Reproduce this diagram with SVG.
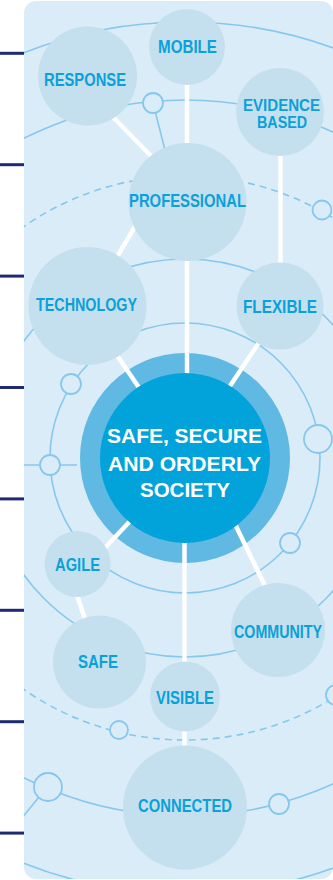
<svg xmlns="http://www.w3.org/2000/svg" width="333" height="880" viewBox="0 0 333 880">
<style>
.orbit{fill:none;stroke:#86c8ec;stroke-width:1.6}
.dash{stroke-dasharray:7 5}
.ring{fill:#daecf7;stroke:#86c8ec;stroke-width:1.8}
.node{fill:#c4e0ee}
.lbl{font-family:"Liberation Sans",Arial,sans-serif;font-weight:bold;font-size:17.5px;fill:#0aa0da;text-anchor:middle}
.sm{font-size:16px}
.ctr{font-family:"Liberation Sans",Arial,sans-serif;font-weight:bold;font-size:20.5px;fill:#fff;text-anchor:middle}
.link{stroke:#fff;stroke-width:4.5;fill:none}
.thin{stroke:#86c8ec;stroke-width:1.6;fill:none}
.tab{stroke:#1f2a74;stroke-width:3}
</style>
<defs>
<clipPath id="panel"><rect x="24" y="1" width="309" height="878" rx="12"/></clipPath>
</defs>
<g id="tabs">
<line class="tab" x1="0" y1="53.3" x2="24" y2="53.3"/>
<line class="tab" x1="0" y1="164.7" x2="24" y2="164.7"/>
<line class="tab" x1="0" y1="276.1" x2="24" y2="276.1"/>
<line class="tab" x1="0" y1="387.5" x2="24" y2="387.5"/>
<line class="tab" x1="0" y1="498.9" x2="24" y2="498.9"/>
<line class="tab" x1="0" y1="610.3" x2="24" y2="610.3"/>
<line class="tab" x1="0" y1="721.7" x2="24" y2="721.7"/>
<line class="tab" x1="0" y1="833.1" x2="24" y2="833.1"/>
</g>
<rect id="panel-bg" x="24" y="1" width="309" height="878" rx="12" fill="#daecf7"/>
<g id="orbits" clip-path="url(#panel)">
<circle class="orbit" cx="185" cy="458" r="135"/>
<circle class="orbit" cx="185" cy="458" r="199"/>
<circle class="orbit dash" cx="185" cy="458" r="282"/>
<circle class="orbit" cx="185" cy="458" r="358"/>
<circle class="orbit" cx="185" cy="458" r="436"/>
<line class="thin" x1="24" y1="465" x2="77" y2="465"/>
<line class="thin" x1="39" y1="797" x2="22" y2="818"/>
<line class="thin" x1="155.5" y1="112.7" x2="165" y2="150"/>
<circle class="ring" cx="153" cy="103" r="10"/>
<circle class="ring" cx="322" cy="210" r="9.5"/>
<circle class="ring" cx="71" cy="384" r="10"/>
<circle class="ring" cx="50" cy="465" r="10"/>
<circle class="ring" cx="318" cy="439" r="14"/>
<circle class="ring" cx="290" cy="543" r="10"/>
<circle class="ring" cx="119" cy="730" r="9"/>
<circle class="ring" cx="336" cy="695" r="10"/>
<circle class="ring" cx="48" cy="787" r="14"/>
<circle class="ring" cx="279" cy="804" r="10"/>
</g>
<g id="hub-ring"><circle cx="185" cy="458" r="105" fill="#5fb9e2"/></g>
<g id="connectors">
<line class="link" x1="108" y1="112" x2="155" y2="160"/>
<line class="link" x1="187" y1="80" x2="187" y2="150"/>
<line class="link" x1="280.5" y1="150" x2="280.5" y2="270"/>
<line class="link" x1="140" y1="218" x2="114" y2="262"/>
<line class="link" x1="187" y1="255" x2="187" y2="380"/>
<line class="link" x1="114" y1="351" x2="142" y2="392"/>
<line class="link" x1="262" y1="338" x2="228" y2="389"/>
<line class="link" x1="132" y1="519" x2="102" y2="551"/>
<line class="link" x1="234" y1="522" x2="267" y2="590"/>
<line class="link" x1="76" y1="592" x2="86" y2="622"/>
<line class="link" x1="184.5" y1="535" x2="184.5" y2="670"/>
<line class="link" x1="184.5" y1="725" x2="184.5" y2="752"/>
</g>
<g id="hub">
<circle cx="185" cy="458" r="85" fill="#02a3da"/>
<text class="ctr" x="184.5" y="443" textLength="155" lengthAdjust="spacingAndGlyphs">SAFE, SECURE</text>
<text class="ctr" x="184.5" y="471" textLength="153" lengthAdjust="spacingAndGlyphs">AND ORDERLY</text>
<text class="ctr" x="185" y="497" textLength="90" lengthAdjust="spacingAndGlyphs">SOCIETY</text>
</g>
<g id="response"><circle class="node" cx="87.5" cy="76" r="49.5"/><text class="lbl" x="85" y="86" textLength="82" lengthAdjust="spacingAndGlyphs">RESPONSE</text></g>
<g id="mobile"><circle class="node" cx="187" cy="47" r="38"/><text class="lbl" x="187.5" y="53" textLength="59" lengthAdjust="spacingAndGlyphs">MOBILE</text></g>
<g id="evidence-based"><circle class="node" cx="280" cy="112" r="44"/><text class="lbl sm" x="281.5" y="110.5" textLength="77" lengthAdjust="spacingAndGlyphs">EVIDENCE</text><text class="lbl sm" x="282" y="127.5" textLength="50" lengthAdjust="spacingAndGlyphs">BASED</text></g>
<g id="professional"><circle class="node" cx="187.5" cy="202" r="59"/><text class="lbl" x="187.5" y="207" textLength="117" lengthAdjust="spacingAndGlyphs">PROFESSIONAL</text></g>
<g id="technology"><circle class="node" cx="87.5" cy="306" r="59"/><text class="lbl" x="86.5" y="311" textLength="101" lengthAdjust="spacingAndGlyphs">TECHNOLOGY</text></g>
<g id="flexible"><circle class="node" cx="280" cy="306" r="43.5"/><text class="lbl" x="280" y="313" textLength="74" lengthAdjust="spacingAndGlyphs">FLEXIBLE</text></g>
<g id="agile"><circle class="node" cx="77.5" cy="564" r="33"/><text class="lbl" x="77.5" y="571" textLength="45" lengthAdjust="spacingAndGlyphs">AGILE</text></g>
<g id="safe"><circle class="node" cx="99.5" cy="662" r="46.5"/><text class="lbl" x="98" y="668" textLength="40" lengthAdjust="spacingAndGlyphs">SAFE</text></g>
<g id="community"><circle class="node" cx="278" cy="630" r="47"/><text class="lbl" x="278" y="637.5" font-size="17" textLength="88" lengthAdjust="spacingAndGlyphs">COMMUNITY</text></g>
<g id="visible"><circle class="node" cx="185" cy="696.5" r="35"/><text class="lbl" x="185" y="704" textLength="58" lengthAdjust="spacingAndGlyphs">VISIBLE</text></g>
<g id="connected"><circle class="node" cx="185" cy="807.5" r="62"/><text class="lbl" x="185" y="812" textLength="94" lengthAdjust="spacingAndGlyphs">CONNECTED</text></g>
</svg>
